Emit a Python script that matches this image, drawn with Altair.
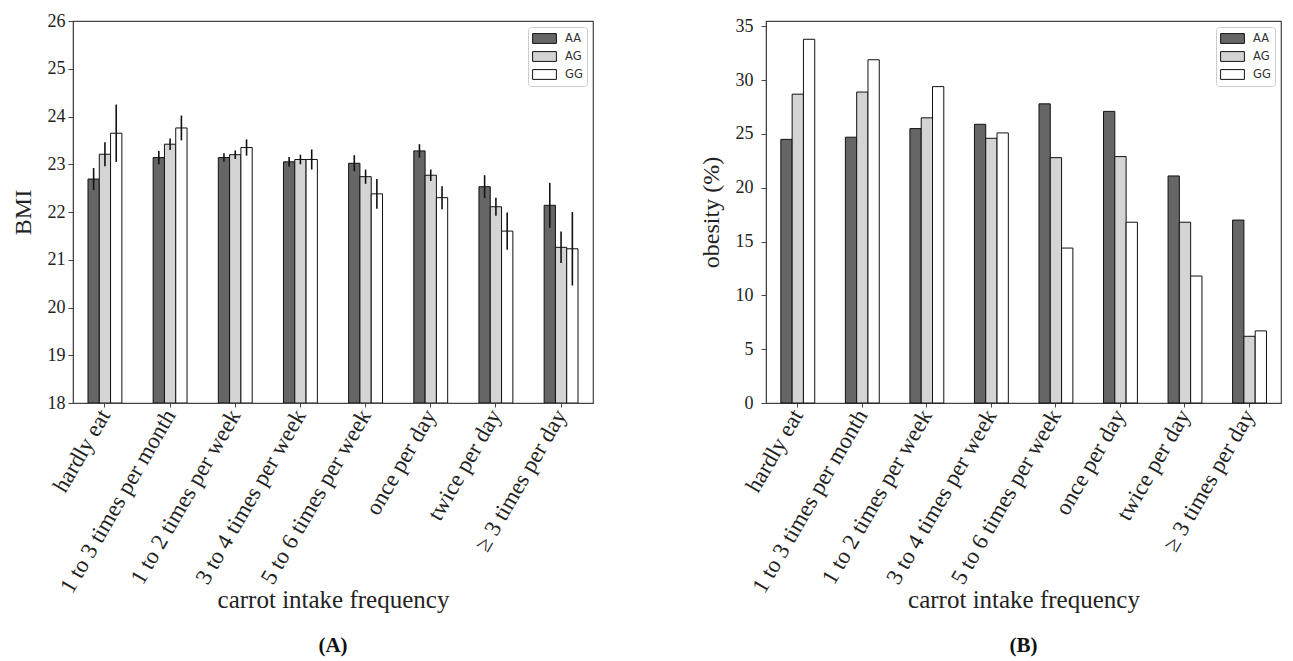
import altair as alt
import pandas as pd

categories = ["hardly eat", "1 to 3 times per month", "1 to 2 times per week",
              "3 to 4 times per week", "5 to 6 times per week", "once per day",
              "twice per day", "\u2265 3 times per day"]
genotypes = ["AA", "AG", "GG"]
geno_colors = ["#666666", "#d4d4d4", "#ffffff"]

bmi_AA = [22.69, 23.14, 23.14, 23.05, 23.02, 23.28, 22.53, 22.14]
bmi_AG = [23.21, 23.42, 23.20, 23.10, 22.74, 22.77, 22.11, 21.26]
bmi_GG = [23.65, 23.76, 23.35, 23.10, 22.38, 22.30, 21.60, 21.23]
err_AA = [0.23, 0.14, 0.09, 0.10, 0.17, 0.14, 0.24, 0.47]
err_AG = [0.25, 0.12, 0.09, 0.10, 0.15, 0.12, 0.19, 0.33]
err_GG = [0.60, 0.26, 0.17, 0.21, 0.31, 0.24, 0.39, 0.77]

ob_AA = [24.5, 24.7, 25.5, 25.9, 27.8, 27.1, 21.1, 17.0]
ob_AG = [28.7, 28.9, 26.5, 24.6, 22.8, 22.9, 16.8, 6.2]
ob_GG = [33.8, 31.9, 29.4, 25.1, 14.4, 16.8, 11.8, 6.7]

rows_bmi = []
rows_ob = []
for i, c in enumerate(categories):
    for g, v, e, o in zip(genotypes, [bmi_AA, bmi_AG, bmi_GG], [err_AA, err_AG, err_GG],
                          [ob_AA, ob_AG, ob_GG]):
        rows_bmi.append(dict(cat=c, geno=g, val=v[i], lo=v[i] - e[i], hi=v[i] + e[i]))
        rows_ob.append(dict(cat=c, geno=g, val=o[i]))
df_bmi = pd.DataFrame(rows_bmi)
df_ob = pd.DataFrame(rows_ob)

SERIF = "Liberation Serif"
SANS = "DejaVu Sans"


def x_enc():
    return alt.X("cat:N", sort=categories,
                 scale=alt.Scale(paddingInner=0.48, paddingOuter=0.23),
                 axis=alt.Axis(title="carrot intake frequency", labelAngle=300,
                               labelAlign="right", labelBaseline="middle",
                               labelFontSize=23, labelFont=SERIF, labelLimit=400,
                               titleFontSize=25, titleFont=SERIF, titleFontWeight="normal",
                               titlePadding=-9, tickSize=4, labelPadding=4))


def xoff_enc():
    return alt.XOffset("geno:N", sort=genotypes,
                       scale=alt.Scale(paddingInner=0, paddingOuter=0))


def color_enc():
    return alt.Color("geno:N", sort=genotypes,
                     scale=alt.Scale(domain=genotypes, range=geno_colors),
                     legend=alt.Legend(title=None, orient="top-right", offset=6, padding=4,
                                       strokeColor="#cccccc", cornerRadius=3, fillColor="white",
                                       symbolType="M-1.7,-0.7H1.7V0.7H-1.7Z", symbolSize=196,
                                       symbolStrokeColor="#111111", symbolStrokeWidth=1,
                                       symbolOffset=5, labelOffset=13, labelFont=SANS,
                                       labelFontSize=11.5, labelColor="#333333", rowPadding=3))


def panel_title(t):
    return alt.TitleParams(t, orient="bottom", anchor="middle", font=SERIF, fontSize=21,
                           fontWeight="bold", color="#111111", offset=22)


bars_a = alt.Chart(df_bmi).mark_bar(stroke="#111111", strokeWidth=1, clip=True).encode(
    x=x_enc(), xOffset=xoff_enc(),
    y=alt.Y("val:Q", scale=alt.Scale(domain=[18, 26], zero=False, nice=False),
            axis=alt.Axis(title="BMI", values=list(range(18, 27)), tickSize=5, labelPadding=3,
                          labelFontSize=18, labelFont=SERIF, titleFontSize=24, titleFont=SERIF,
                          titleFontWeight="normal", titlePadding=12)),
    y2=alt.datum(18),
    color=color_enc(),
)
err_a = alt.Chart(df_bmi).mark_rule(color="#111111", strokeWidth=1.6).encode(
    x=x_enc(), xOffset=xoff_enc(), y="lo:Q", y2="hi:Q")
left = alt.layer(bars_a, err_a).properties(width=520, height=382, title=panel_title("(A)"))

bars_b = alt.Chart(df_ob).mark_bar(stroke="#111111", strokeWidth=1).encode(
    x=x_enc(), xOffset=xoff_enc(),
    y=alt.Y("val:Q", scale=alt.Scale(domain=[0, 35.5], nice=False),
            axis=alt.Axis(title="obesity (%)", values=list(range(0, 36, 5)), tickSize=5,
                          labelPadding=8, labelFontSize=18, labelFont=SERIF, titleFontSize=24,
                          titleFont=SERIF, titleFontWeight="normal", titlePadding=12)),
    color=color_enc(),
)
right = bars_b.properties(width=515, height=382, title=panel_title("(B)"))

chart = alt.hconcat(left, right, spacing=104).resolve_scale(
    color="independent", x="independent", y="independent"
).resolve_legend(color="independent").properties(
    padding={"left": 2, "top": 3, "right": 0, "bottom": 0}
).configure_view(stroke="#444444", strokeWidth=1.2).configure_axis(
    grid=False, domainColor="#444444", tickColor="#444444", labelColor="#222222",
    titleColor="#222222"
)

chart.save("out.html", embed_options={"renderer": "svg", "actions": False})
